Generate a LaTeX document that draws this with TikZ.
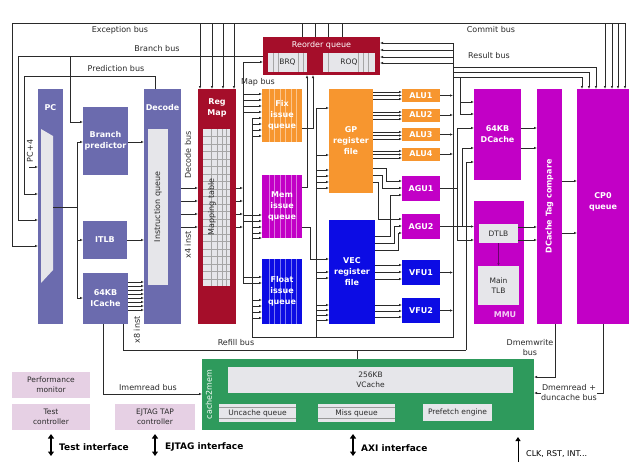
\documentclass[tikz,border=0pt]{standalone}
\usepackage{fontspec}
\setmainfont{DejaVu Sans}
\usepackage{xcolor}
\usepackage{tikz}
\usetikzlibrary{arrows.meta,positioning}
\definecolor{slate}{HTML}{6B6BAE}
\definecolor{wine}{HTML}{A50E2A}
\definecolor{amber}{HTML}{F7962F}
\definecolor{violet}{HTML}{C200C6}
\definecolor{royal}{HTML}{0C0CE4}
\definecolor{jade}{HTML}{2E9A5C}
\definecolor{mist}{HTML}{E6E6EA}
\definecolor{blush}{HTML}{E6D0E4}
\definecolor{ink}{HTML}{2A2A2A}

\begin{document}
\begin{tikzpicture}[x=1pt,y=-1pt,node distance=6.5pt,>={Latex[length=3pt,width=2.4pt]}]
\tikzset{blk/.style={anchor=north west,inner sep=0pt,outer sep=0pt,text=white,align=center,font=\bfseries\fontsize{8}{11}\selectfont},
  sz/.style 2 args={minimum width=#1pt,minimum height=#2pt},
  pale/.style={anchor=north west,inner sep=0pt,outer sep=0pt,fill=mist,text=ink,align=center,font=\fontsize{7.5}{10}\selectfont},
  btxt/.style={inner sep=0pt,text=white,align=center,font=\bfseries\fontsize{8}{11}\selectfont},
  wtxt/.style={inner sep=0pt,text=white,align=center,font=\fontsize{8}{10}\selectfont},
  rtxt/.style={inner sep=0pt,rotate=90,text=ink,font=\fontsize{8}{10}\selectfont},
  buslbl/.style={inner sep=1pt,text=ink,align=center,font=\fontsize{8}{10}\selectfont},
  iflbl/.style={anchor=west,inner sep=0pt,text=black,font=\bfseries\fontsize{9}{10}\selectfont},
  bus/.style={draw=ink,line width=0.7pt},
  io/.style={line width=1.7pt,{Triangle[width=6pt,length=4.5pt]}-{Triangle[width=6pt,length=4.5pt]}},
  vlines/.style 2 args={path picture={\foreach \k in {#2}{\draw[#1,line width=0.5pt] ([xshift=\k*1pt]path picture bounding box.north west) -- ([xshift=\k*1pt]path picture bounding box.south west);}}},
  hlines/.style 2 args={path picture={\foreach \k in {#2}{\draw[#1,line width=0.5pt] ([yshift=-\k*1pt]path picture bounding box.north west) -- ([yshift=-\k*1pt]path picture bounding box.north east);}}},
  mapgrid/.style={path picture={\foreach \k in {7.5,15,...,150}{\draw[gray!70,line width=0.5pt] ([yshift=-\k*1pt]path picture bounding box.north west) -- ([yshift=-\k*1pt]path picture bounding box.north east);}
    \foreach \k in {8,14,19,23}{\draw[gray!70,line width=0.5pt] ([xshift=\k*1pt]path picture bounding box.north west) -- ([xshift=\k*1pt]path picture bounding box.south west);}}}}
\fill[white] (0,0) rectangle (640,466);
\useasboundingbox (0,0) rectangle (640,466);

% front end
\node[blk,fill=slate,sz={25}{235}] (pc) at (38,89) {};
\fill[mist] (41,129) -- (53,136) -- (53,270) -- (41,283) -- cycle;
\node[btxt] (pctxt) at (50.5,108) {PC};
\node[blk,fill=slate,sz={45}{68}] (bp) at (83,107) {Branch\\predictor};
\node[blk,fill=slate,sz={44}{38}] (itlb) at (83,221) {ITLB};
\node[blk,fill=slate,sz={45}{51}] (icache) at (83,273) {64KB\\ICache};
\node[blk,fill=slate,sz={37}{235}] (dec) at (144,89) {};
\node[btxt] (dectxt) at (162.5,108) {Decode};
\node[pale,sz={20}{156}] (iq) at (148,129) {};
\node[rtxt] (iqtxt) at (iq.center) {Instruction queue};

% rename and reorder
\node[blk,fill=wine,sz={38}{235}] (regmap) at (198,89) {};
\node[btxt] (rmtxt) at (217,108) {Reg\\Map};
\node[pale,sz={27}{157},mapgrid] (mtab) at (203,129) {};
\node[rtxt] (mttxt) at (212,207) {Mapping table};
\node[blk,fill=wine,sz={117}{38}] (rob) at (263,37) {};
\node[wtxt] (robtxt) at (321.5,45) {Reorder queue};
\node[pale,sz={39}{19},vlines={gray!70}{5,10,30,35}] (brq) at (268,53) {BRQ};
\node[pale,sz={52}{19},vlines={gray!70}{5,35,40,45}] (roq) at (323,53) {ROQ};

% issue queues, register files, units
\node[blk,fill=amber,sz={40}{53},vlines={amber!55!white}{7,12.5,...,35}] (fixq) at (262,89) {Fix\\issue\\queue};
\node[blk,fill=violet,sz={40}{63},vlines={violet!55!white}{7,12.5,...,35}] (memq) at (262,175) {Mem\\issue\\queue};
\node[blk,fill=royal,sz={40}{65},vlines={royal!55!white}{7,12.5,...,35}] (fltq) at (262,259) {Float\\issue\\queue};
\node[blk,fill=amber,sz={44}{104}] (gprf) at (329,89) {GP\\register\\file};
\node[blk,fill=royal,sz={46}{104}] (vecrf) at (329,220) {VEC\\register\\file};
\node[blk,fill=amber,sz={38}{13}] (alu1) at (402,89) {ALU1};
\node[blk,fill=amber,sz={38}{13},below=of alu1] (alu2) {ALU2};
\node[blk,fill=amber,sz={38}{13},below=of alu2] (alu3) {ALU3};
\node[blk,fill=amber,sz={38}{13},below=of alu3] (alu4) {ALU4};
\node[blk,fill=violet,sz={38}{25}] (agu1) at (402,176) {AGU1};
\node[blk,fill=violet,sz={38}{25},below=13pt of agu1] (agu2) {AGU2};
\node[blk,fill=royal,sz={38}{25}] (vfu1) at (402,260) {VFU1};
\node[blk,fill=royal,sz={38}{25},below=13pt of vfu1] (vfu2) {VFU2};

% memory side
\node[blk,fill=violet,sz={47}{91}] (dcache) at (474,89) {64KB\\DCache};
\node[blk,fill=violet,sz={50}{123}] (mmu) at (474,201) {};
\node[pale,sz={39}{19}] (dtlb) at (479,224) {DTLB};
\node[pale,sz={41}{39}] (mtlb) at (478,266) {Main\\TLB};
\node[btxt,text=white!80!violet] (mmutxt) at (505,315) {MMU};
\node[blk,fill=violet,sz={25}{235}] (tagcmp) at (537,89) {};
\node[btxt,rotate=90] (tagtxt) at (tagcmp.center) {DCache Tag compare};
\node[blk,fill=violet,sz={52}{235}] (cp0) at (577,89) {};
\node[btxt] (cp0txt) at (603,202) {CP0\\queue};

% cache2mem
\node[blk,fill=jade,sz={332}{71}] (c2m) at (202,359) {};
\node[wtxt,rotate=90] (c2mtxt) at (209,394.5) {cache2mem};
\node[pale,sz={285}{26}] (vcache) at (228,367) {256KB\\VCache};
\node[pale,sz={77}{18},hlines={gray!80}{3.5,14.5}] (ucq) at (219,404) {Uncache queue};
\node[pale,sz={77}{18},hlines={gray!80}{3.5,14.5}] (missq) at (318,404) {Miss queue};
\node[pale,sz={69}{17}] (pref) at (423,404) {Prefetch engine};

% debug blocks
\node[pale,fill=blush,sz={78}{26}] (perf) at (12,372) {Performance\\monitor};
\node[pale,fill=blush,sz={78}{26}] (testc) at (12,404) {Test\\controller};
\node[pale,fill=blush,sz={80}{26}] (ejtag) at (115,404) {EJTAG TAP\\controller};

% exception, branch, prediction and commit buses
\draw[bus] (12,23) -- (625,23);
\draw[bus,->] (12,23) |- (pc.west |- 0,246);
\foreach \x in {200,212,223,234} \draw[bus,->] (\x,23) -- (\x,0 |- regmap.north);
\foreach \x in {302,315,328,342} \draw[bus] (\x,0 |- rob.north) -- (\x,23);
\foreach \x in {605,612,618,625} \draw[bus,->] (\x,23) -- (\x,0 |- cp0.north);
\draw[bus,->] (rob.west |- 0,56) -- (18,56) |- (pc.west |- 0,220);
\draw[bus,->] (70,56) |- (bp.west |- 0,122);
\draw[bus,->] (155,0 |- dec.north) -- (155,76) -- (24,76) |- (pc.west |- 0,194);
\node[buslbl] (exclbl) at (120,30) {Exception bus};
\node[buslbl] (brlbl) at (157,49) {Branch bus};
\node[buslbl] (prlbl) at (116,69) {Prediction bus};
\node[buslbl] (cmlbl) at (491,30) {Commit bus};
\draw[bus,->] (29,167) -- (pc.west |- 0,167);
\node[rtxt] (pc4) at (30,151) {PC+4};

% fetch
\draw[bus] (53,207) -- (77,207); \draw[bus] (77,142) -- (77,298);
\draw[bus,->] (77,142) -- (bp.west |- 0,142); \draw[bus,->] (77,240) -- (itlb.west |- 0,240); \draw[bus,->] (77,298) -- (icache.west |- 0,298);
\draw[bus,->] (bp.east |- 0,142) -- (dec.west |- 0,142); \draw[bus,->] (itlb.east |- 0,240) -- (dec.west |- 0,240);
\foreach \y in {282,286,...,310} \draw[bus,->] (icache.east |- 0,\y) -- (dec.west |- 0,\y);
\node[rtxt] (x8lbl) at (137,330) {x8 inst};

% decode and map
\foreach \y in {188,201,214,227} \draw[bus,->] (dec.east |- 0,\y) -- (regmap.west |- 0,\y);
\foreach \y in {188,201,214,227} \draw[bus,->] (regmap.east |- 0,\y) -- (243,\y);
\node[rtxt] (declbl) at (188,155) {Decode bus};
\node[rtxt] (x4lbl) at (188,245) {x4 inst};
\draw[bus] (243,62) -- (243,283);
\draw[bus,->] (243,62) -- (rob.west |- 0,62);
\node[buslbl] (maplbl) at (258,82) {Map bus};
\draw[bus] (252,118) -- (252,337) -- (453,337) -- (453,43);
\foreach \y in {94,100,106,112} \draw[bus,->] (243,\y) -- (fixq.west |- 0,\y);
\foreach \y in {118,124,130,136} \draw[bus,->] (252,\y) -- (fixq.west |- 0,\y);
\foreach \y in {215,221} \draw[bus,->] (243,\y) -- (memq.west |- 0,\y);
\foreach \y in {227,233,238} \draw[bus,->] (252,\y) -- (memq.west |- 0,\y);
\foreach \y in {277,283} \draw[bus,->] (243,\y) -- (fltq.west |- 0,\y);
\foreach \y in {300,306,312,318} \draw[bus,->] (252,\y) -- (fltq.west |- 0,\y);

% issue to register files
\draw[bus,->] (fixq.east |- 0,128) -| (313,0 |- rob.south);
\draw[bus,->] (memq.east |- 0,187) -| (307,0 |- rob.south);
\draw[bus] (316,108) -- (316,337);
\foreach \y in {108,155,170,176,182,188} \draw[bus,->] (316,\y) -- (gprf.west |- 0,\y);
\draw[bus,->] (memq.east |- 0,227) -| (310,259) -- (vecrf.west |- 0,259);
\foreach \y in {272,278,305,310,315,320} \draw[bus,->] (316,\y) -- (vecrf.west |- 0,\y);

% register files to units
\foreach \y in {92,95.5,99,112,115.5,119,132,135.5,139,151,154.5,158} \draw[bus,->] (gprf.east |- 0,\y) -- (alu1.west |- 0,\y);
\draw[bus,->] (gprf.east |- 0,168) -- (386,168) |- (agu1.west |- 0,181);
\draw[bus,->] (gprf.east |- 0,175) -- (382,175) |- (agu1.west |- 0,188);
\draw[bus,->] (gprf.east |- 0,182) -- (378,182) |- (agu2.west |- 0,219);
\draw[bus,->] (vecrf.east |- 0,236) -- (390,236) |- (agu1.west |- 0,195);
\draw[bus,->] (vecrf.east |- 0,243) -- (394,243) |- (agu2.west |- 0,226);
\draw[bus,->] (vecrf.east |- 0,250) -- (398,250) |- (agu2.west |- 0,233);
\foreach \y in {265,272,279} \draw[bus,->] (vecrf.east |- 0,\y) -- (vfu1.west |- 0,\y);
\foreach \y in {305,311,317} \draw[bus,->] (vecrf.east |- 0,\y) -- (vfu2.west |- 0,\y);

% result bus
\foreach \u in {alu1,alu2,alu3,alu4,vfu1,vfu2} \draw[bus,->] (\u.east) -- (453,0 |- \u.east);
\foreach \y in {43,50,57,63} \draw[bus,->] (453,\y) -- (rob.east |- 0,\y);
\draw[bus,->] (453,67) -| (596,0 |- cp0.north);
\draw[bus,->] (453,72) -| (589,0 |- cp0.north);
\draw[bus,->] (453,77) -| (582,0 |- cp0.north);
\draw[bus,->] (460,77) |- (dcache.west |- 0,102);
\draw[bus,->] (460,102) |- (dcache.west |- 0,114);
\node[buslbl] (reslbl) at (489,56) {Result bus};

% memory pipeline
\draw[bus] (agu1.east) -- (457,0 |- agu1.east);
\draw[bus,->] (457,0 |- agu1.east) |- (mmu.west |- 0,240);
\draw[bus,->] (457,0 |- agu1.east) |- (dcache.west |- 0,128);
\draw[bus,->] (agu2.east) -- (mmu.west |- agu2.east);
\draw[bus,->] (462,0 |- agu2.east) |- (dcache.west |- 0,148);
\foreach \y in {128,148} \draw[bus,->] (dcache.east |- 0,\y) -- (tagcmp.west |- 0,\y);
\foreach \y in {227,240} \draw[bus,->] (dtlb.east |- 0,\y) -- (tagcmp.west |- 0,\y);
\foreach \y in {181,233} \draw[bus,->] (tagcmp.east |- 0,\y) -- (cp0.west |- 0,\y);
\draw[->,draw=violet!55!black,line width=0.9pt] (dtlb) -- (mtlb);

% refill and memory buses
\draw[bus] (123,0 |- icache.south) |- (466,350);
\draw[bus,->] (466,350) |- (dcache.west |- 0,162);
\draw[bus] (357,350) -- (357,0 |- c2m.north);
\node[buslbl] (reflbl) at (236,343) {Refill bus};
\draw[bus,->] (103,0 |- icache.south) |- (c2m.west |- 0,394);
\node[buslbl] (imlbl) at (148,388) {Imemread bus};
\draw[bus,->] (555,0 |- tagcmp.south) |- (c2m.east |- 0,377);
\draw[bus,->] (603,0 |- cp0.south) |- (c2m.east |- 0,393);
\node[buslbl] (dwlbl) at (530,348) {Dmemwrite\\bus};
\node[buslbl,fill=white,inner sep=0.5pt] (drlbl) at (569,393) {Dmemread +\\duncache bus};

% interfaces
\draw[io] ([yshift=-4pt]testc.south) -- ++(0,22);
\node[iflbl] (tif) at (59,447) {Test interface};
\draw[io] ([yshift=-4pt]ejtag.south) -- ++(0,22);
\node[iflbl] (eif) at (165,447) {EJTAG interface};
\draw[io] (353,434) -- (353,456);
\node[iflbl] (aif) at (361,448) {AXI interface};
\draw[->,line width=1pt,>={Triangle[width=5pt,length=4pt]}] (518,462) -- (518,437);
\node[iflbl,font=\fontsize{8}{10}\selectfont] (clk) at (526,454) {CLK, RST, INT...};
\end{tikzpicture}
\end{document}
